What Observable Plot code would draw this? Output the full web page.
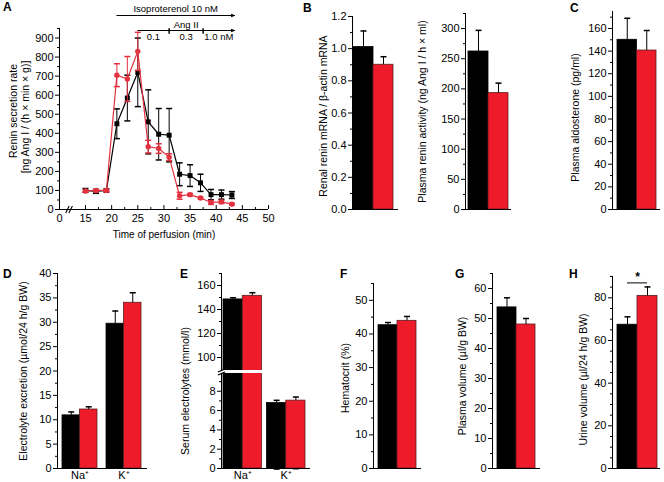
<!DOCTYPE html>
<html><head><meta charset="utf-8">
<script src="https://cdn.jsdelivr.net/npm/d3@7"></script>
<script src="https://cdn.jsdelivr.net/npm/@observablehq/plot@0.6"></script>
<style>
body{margin:0;background:#fff;}
#fig{position:relative;width:664px;height:482px;font-family:"Liberation Sans",Arial,Helvetica,sans-serif;}
.pl{position:absolute;font-weight:bold;font-size:12px;line-height:12px;color:#000;}
</style></head><body><div id="fig"></div>
<script>
// ---------- Panel A: renin secretion during perfusion ----------
const perfTime   = [15, 17, 19, 21, 23, 25, 27, 29, 31, 33, 35, 37, 39, 41, 43];
const reninWT    = [100, 95, 100, 450, 585, 720, 460, 395, 390, 185, 178, 140, 78, 78, 76];
const reninWTse  = [10, 10, 8, 78, 120, 180, 168, 135, 140, 60, 57, 45, 27, 24, 18];
const reninKO    = [97, 100, 100, 705, 685, 830, 330, 320, 275, 72, 78, 60, 37, 40, 28];
const reninKOse  = [6, 6, 6, 60, 118, 100, 33, 25, 18, 18, 6, 5, 10, 8, 4];
const perfTicks  = [0, 15, 20, 25, 30, 35, 40, 45, 50];
const perfMinor  = [17.5, 22.5, 27.5, 32.5, 37.5, 42.5, 47.5];
const reninTicks = [0, 100, 200, 300, 400, 500, 600, 700, 800, 900];
const reninMinor = [50, 150, 250, 350, 450, 550, 650, 750, 850, 950];
const isoSpan    = [21, 43.5];
const angSpan    = [25, 43.5];
const angSteps   = [31, 37.5];
const angDoses   = ["0.1", "0.3", "1.0 nM"];
const isoLabel   = "Isoproterenol 10 nM";
const angLabel   = "Ang II";
const labelA     = ["Renin secretion rate", "[ng Ang I / (h × min × g)]"];
const xLabelA    = "Time of perfusion (min)";

// ---------- Panels B–H: means and SEM (black = control, red = mutant) ----------
const mrnaMean = [1.01, 0.90],  mrnaSE = [0.10, 0.05];
const praMean  = [262, 193],    praSE  = [35, 16.5];
const aldoMean = [150, 140.5],  aldoSE = [19, 17.7];
const ions     = ["Na⁺", "K⁺"];
const excrWT   = [10.9, 29.7],  excrWTse  = [0.7, 2.6];
const excrKO   = [12.1, 34.0],  excrKOse  = [0.55, 2.05];
const serumWT  = [148.4, 6.78], serumWTse = [1.4, 0.28];
const serumKO  = [151.4, 7.03], serumKOse = [2.6, 0.37];
const hctMean  = [42.6, 43.9],  hctSE  = [0.8, 1.3];
const plvMean  = [53.7, 48.0],  plvSE  = [3.2, 2.0];
const urineMean= [67.4, 80.9],  urineSE= [3.7, 4.2];
const urineSig = 87;

const mrnaTicks  = [0, 0.2, 0.4, 0.6, 0.8, 1.0, 1.2];
const praTicks   = [0, 50, 100, 150, 200, 250, 300];
const aldoTicks  = [0, 20, 40, 60, 80, 100, 120, 140, 160];
const excrTicks  = [0, 5, 10, 15, 20, 25, 30, 35, 40];
const serumHiTicks = [100, 120, 140, 160];
const serumHiMinor = [110, 130, 150, 170];
const serumLoTicks = [0, 2, 4, 6, 8];
const serumLoMinor = [1, 3, 5, 7, 9];
const hctTicks   = [0, 10, 20, 30, 40, 50];
const plvTicks   = [0, 10, 20, 30, 40, 50, 60];
const urineTicks = [0, 20, 40, 60, 80];

// ---------- styling ----------
const FONT = '"Liberation Sans", Arial, Helvetica, sans-serif';
const RED = "#ee1c2a", RED_EDGE = "#5a1d1d", RED_LINE = "#e2323f";
const W = 664, H = 482;
const fig = document.getElementById("fig");
const capSym   = {draw(c, s) { const w = Math.sqrt(s) / 2; c.moveTo(-w, 0); c.lineTo(w, 0); }};
const vSym     = {draw(c, s) { const w = Math.sqrt(s) / 2; c.moveTo(0, -w); c.lineTo(0, w); }};
const slashSym = {draw(c, s) { const w = Math.sqrt(s) / 2; c.moveTo(-w * 0.5, w); c.lineTo(w * 0.5, -w); }};
const flatSlash= {draw(c, s) { const w = Math.sqrt(s) / 2; c.moveTo(-w, w * 0.45); c.lineTo(w, -w * 0.45); }};
const mid = ([a, b]) => (a + b) / 2;

function place(area, opts) {
  const [x0, y0, x1, y1] = area;
  const svg = Plot.plot({
    width: W, height: H,
    marginLeft: x0, marginRight: W - x1, marginTop: y0, marginBottom: H - y1,
    style: {position: "absolute", left: "0px", top: "0px", background: "transparent",
            overflow: "visible", fontFamily: FONT, fontSize: "11px", color: "black", maxWidth: "none"},
    ...opts
  });
  fig.appendChild(svg);
}

function yLabel(text, off, dy = 0) {
  return Plot.text([text], {text: d => d, frameAnchor: "left", textAnchor: "middle", rotate: -90, dx: -off, dy, fontSize: 10.5, fill: "black"});
}

// ---------- Panel A ----------
const rowsA = perfTime.map((t, i) => ({t, wt: reninWT[i], wtSe: reninWTse[i], ko: reninKO[i], koSe: reninKOse[i]}));
const yTopA = 950;
const axisBreakA = 5.5;
const doseBounds = [angSpan[0], ...angSteps, angSpan[1]];
const doseMid = angDoses.map((d, i) => (doseBounds[i] + doseBounds[i + 1]) / 2);
place([59, 28, 268, 209], {
  x: {type: "linear", domain: [0, 15, 50], range: [59, 85, 268], axis: null, label: null},
  y: {domain: [0, yTopA], axis: null, label: null},
  marks: [
    Plot.ruleY([0], {stroke: "black"}),
    Plot.ruleX([0], {stroke: "black"}),
    Plot.dot([axisBreakA], {x: d => d, y: 0, symbol: slashSym, r: 4, stroke: "black", strokeWidth: 1.1, dx: -1.6}),
    Plot.dot([axisBreakA], {x: d => d, y: 0, symbol: slashSym, r: 4, stroke: "black", strokeWidth: 1.1, dx: 1.6}),
    Plot.axisY({ticks: reninTicks, tickSize: 4, tickPadding: 2, fontSize: 11, label: null}),
    Plot.axisY({ticks: reninMinor, tickSize: 2, fill: "none", label: null}),
    Plot.axisX({ticks: perfTicks, tickSize: 0, tickPadding: 5, fontSize: 11, label: null}),
    Plot.axisX({ticks: perfTicks.slice(1), tickSize: -4, fill: "none", label: null}),
    Plot.axisX({ticks: perfMinor, tickSize: -2, fill: "none", label: null}),
    Plot.text([xLabelA], {text: d => d, frameAnchor: "bottom", dy: 28, fontSize: 10}),
    yLabel(labelA[0], 46, -8),
    yLabel(labelA[1], 34, -2),
    // black series
    Plot.ruleX(rowsA, {x: "t", y1: d => d.wt - d.wtSe, y2: d => d.wt + d.wtSe, stroke: "black", strokeWidth: 1}),
    Plot.dot(rowsA, {x: "t", y: d => d.wt - d.wtSe, symbol: capSym, r: 3.4, stroke: "black"}),
    Plot.dot(rowsA, {x: "t", y: d => d.wt + d.wtSe, symbol: capSym, r: 3.4, stroke: "black"}),
    Plot.line(rowsA, {x: "t", y: "wt", stroke: "black", strokeWidth: 1.2}),
    Plot.dot(rowsA, {x: "t", y: "wt", symbol: "square", r: 2.8, fill: "black"}),
    // red series
    Plot.ruleX(rowsA, {x: "t", y1: d => d.ko - d.koSe, y2: d => d.ko + d.koSe, stroke: RED_LINE, strokeWidth: 1}),
    Plot.dot(rowsA, {x: "t", y: d => d.ko - d.koSe, symbol: capSym, r: 3.4, stroke: RED_LINE}),
    Plot.dot(rowsA, {x: "t", y: d => d.ko + d.koSe, symbol: capSym, r: 3.4, stroke: RED_LINE}),
    Plot.line(rowsA, {x: "t", y: "ko", stroke: RED_LINE, strokeWidth: 1.2}),
    Plot.dot(rowsA, {x: "t", y: "ko", r: 2.7, fill: RED_LINE}),
    // treatment annotations
    Plot.arrow([isoSpan], {x1: d => d[0], x2: d => d[1], y1: yTopA, y2: yTopA, dy: -13, stroke: "black", strokeWidth: 1, headLength: 5, headAngle: 40}),
    Plot.text([isoLabel], {text: d => d, x: () => mid(isoSpan), y: yTopA, dy: -19.5, fontSize: 9.5}),
    Plot.arrow([angSpan], {x1: d => d[0], x2: d => d[1], y1: yTopA, y2: yTopA, dy: 2, stroke: "black", strokeWidth: 1, headLength: 5, headAngle: 40}),
    Plot.text([angLabel], {text: d => d, x: () => mid(angSpan), y: yTopA, dy: -4, fontSize: 9.5}),
    Plot.dot(angSteps, {x: d => d, y: yTopA, dy: 2.5, symbol: vSym, r: 3, stroke: "black"}),
    Plot.text(angDoses, {text: d => d, x: (d, i) => doseMid[i], y: yTopA, dy: 8.5, fontSize: 9.5})
  ]
});

// ---------- bar panels ----------
function barPanel(p) {
  const rows = p.groups.map((g, i) => ({g, wt: p.wt[i], wtSe: p.wtSe[i], ko: p.ko[i], koSe: p.koSe[i]}));
  const n = p.groups.length, pad = p.pad || 0;
  const bw = (p.bars[1] - p.bars[0]) / (n - pad) * (1 - pad);
  const half = bw / 2, q = bw / 4;
  const clip = !!p.clip;
  const marks = [
    Plot.barY(rows, {x: "g", y: "wt", fill: "black", stroke: "black", strokeWidth: 0.8, insetRight: half, clip}),
    Plot.barY(rows, {x: "g", y: "ko", fill: RED, stroke: RED_EDGE, strokeWidth: 0.8, insetLeft: half, clip}),
    Plot.ruleX(rows, {x: "g", y1: "wt", y2: d => d.wt + d.wtSe, dx: -q, stroke: "black", clip}),
    Plot.ruleX(rows, {x: "g", y1: "ko", y2: d => d.ko + d.koSe, dx: q, stroke: "black", clip}),
    Plot.dot(rows.filter(d => d.wt + d.wtSe <= p.domain[1]), {x: "g", y: d => d.wt + d.wtSe, dx: -q, symbol: capSym, r: 3.4, stroke: "black"}),
    Plot.dot(rows.filter(d => d.ko + d.koSe <= p.domain[1]), {x: "g", y: d => d.ko + d.koSe, dx: q, symbol: capSym, r: 3.4, stroke: "black"})
  ];
  if (p.baseline !== false) marks.push(Plot.ruleY([p.domain[0]], {stroke: "black"}));
  marks.push(
    Plot.frame({anchor: "left", stroke: "black"}),
    Plot.axisY({ticks: p.ticks, tickSize: 4, tickPadding: 2, fontSize: 11, tickFormat: p.fmt, label: null}),
    Plot.axisY({ticks: p.minor, tickSize: 2, fill: "none", label: null})
  );
  if (p.label) marks.push(yLabel(p.label, p.off, p.dy || 0));
  if (p.breakMark) {
    marks.push(Plot.dot([p.breakMark], {frameAnchor: p.breakMark, symbol: flatSlash, r: 4, stroke: "black", strokeWidth: 1.1}));
  }
  if (p.showX) marks.push(Plot.axisX({tickSize: 0, tickPadding: 3, fontSize: 11, label: null}));
  if (p.sig != null) {
    marks.push(
      Plot.tickY(rows, {x: "g", y: () => p.sig, insetLeft: q, insetRight: q, stroke: "black"}),
      Plot.text(rows, {x: "g", y: () => p.sig, text: () => "*", dy: -2, lineAnchor: "bottom", fontSize: 12, fontWeight: "bold"})
    );
  }
  place(p.area, {
    x: {type: "band", domain: p.groups, range: p.bars, paddingInner: pad, paddingOuter: 0, round: false, axis: null, label: null},
    y: {domain: p.domain, axis: null, label: null},
    marks
  });
}
const one = [""];
const every = (a, b, s) => d3.range(a, b + 1e-9, s);

barPanel({area: [352, 16, 398, 209], bars: [353, 393], groups: one, wt: [mrnaMean[0]], wtSe: [mrnaSE[0]], ko: [mrnaMean[1]], koSe: [mrnaSE[1]],
  domain: [0, 1.2], ticks: mrnaTicks, minor: every(0.1, 1.1, 0.2), fmt: d3.format(".1f"), label: "Renal renin mRNA / β-actin mRNA", off: 29, dy: 3});
barPanel({area: [465, 13, 511, 209], bars: [468, 508], groups: one, wt: [praMean[0]], wtSe: [praSE[0]], ko: [praMean[1]], koSe: [praSE[1]],
  domain: [0, 325], ticks: praTicks, minor: every(25, 325, 50), label: "Plasma renin activity (ng Ang I / h × ml)", off: 43});
barPanel({area: [612, 11, 660, 209], bars: [617, 656], groups: one, wt: [aldoMean[0]], wtSe: [aldoSE[0]], ko: [aldoMean[1]], koSe: [aldoSE[1]],
  domain: [0, 175], ticks: aldoTicks, minor: every(10, 170, 20), label: "Plasma aldosterone (pg/ml)", off: 37, dy: 7});
barPanel({area: [57, 273, 147, 468], bars: [62, 141], pad: 0.205, groups: ions, wt: excrWT, wtSe: excrWTse, ko: excrKO, koSe: excrKOse, showX: true,
  domain: [0, 40], ticks: excrTicks, minor: every(2.5, 37.5, 5), label: "Electrolyte excretion (µmol/24 h/g BW)", off: 34});
// Panel E: broken axis, upper (Na⁺) and lower (K⁺) segments
barPanel({area: [221, 273, 310, 370], bars: [223, 305], pad: 0.115, groups: ions, wt: serumWT, wtSe: serumWTse, ko: serumKO, koSe: serumKOse,
  clip: true, baseline: false, breakMark: "bottom-left",
  domain: [89.2, 170], ticks: serumHiTicks, minor: serumHiMinor});
barPanel({area: [221, 373, 310, 468], bars: [223, 305], pad: 0.115, groups: ions, wt: serumWT, wtSe: serumWTse, ko: serumKO, koSe: serumKOse,
  clip: true, breakMark: "top-left", showX: true,
  domain: [0, 9.84], ticks: serumLoTicks, minor: serumLoMinor, label: "Serum electrolytes (mmol/l)", off: 36, dy: -30});
barPanel({area: [373, 283, 421, 468], bars: [378, 416], groups: one, wt: [hctMean[0]], wtSe: [hctSE[0]], ko: [hctMean[1]], koSe: [hctSE[1]],
  domain: [0, 55], ticks: hctTicks, minor: every(5, 55, 10), label: "Hematocrit (%)", off: 28, dy: 2});
barPanel({area: [492, 273, 540, 468], bars: [497, 535], groups: one, wt: [plvMean[0]], wtSe: [plvSE[0]], ko: [plvMean[1]], koSe: [plvSE[1]],
  domain: [0, 65], ticks: plvTicks, minor: every(5, 65, 10), label: "Plasma volume (µl/g BW)", off: 30, dy: 5});
barPanel({area: [612, 276, 660, 468], bars: [617, 657], groups: one, wt: [urineMean[0]], wtSe: [urineSE[0]], ko: [urineMean[1]], koSe: [urineSE[1]],
  domain: [0, 90], ticks: urineTicks, minor: every(5, 90, 5).filter(v => v % 20 !== 0), label: "Urine volume (µl/24 h/g BW)", off: 29, dy: 7, sig: urineSig});

// ---------- panel letters ----------
const letters = [["A", 3, 1], ["B", 303, 2], ["C", 570, 2], ["D", 3, 268], ["E", 180, 268], ["F", 340, 268], ["G", 455, 268], ["H", 569, 268]];
for (const [t, x, y] of letters) {
  const d = document.createElement("div");
  d.className = "pl"; d.textContent = t; d.style.left = x + "px"; d.style.top = y + "px";
  fig.appendChild(d);
}
</script></body></html>
